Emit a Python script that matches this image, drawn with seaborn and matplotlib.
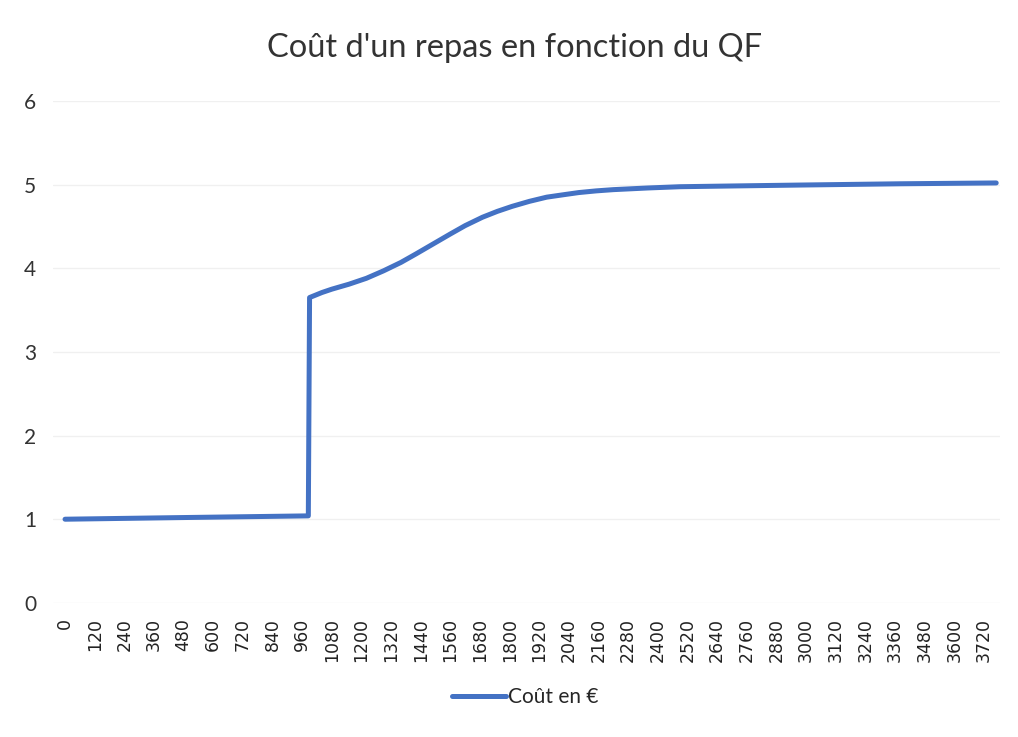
import pandas as pd
import numpy as np
import seaborn as sns
import matplotlib.pyplot as plt

# values (QF -> cost of a meal in euros)
qf = [0, 480, 985, 990, 1040, 1080, 1150, 1220, 1290, 1360, 1420, 1490, 1560,
      1620, 1690, 1750, 1810, 1880, 1950, 2020, 2080, 2150, 2220, 2360, 2490,
      2730, 2980, 3380, 3770]
cout = [1.00, 1.02, 1.04, 3.65, 3.71, 3.75, 3.81, 3.88, 3.97, 4.07, 4.17, 4.29,
        4.41, 4.51, 4.61, 4.68, 4.74, 4.80, 4.85, 4.88, 4.905, 4.925, 4.94,
        4.96, 4.975, 4.985, 4.995, 5.01, 5.02]
xticks = list(range(0, 3721, 120))
yticks = [0, 1, 2, 3, 4, 5, 6]

df = pd.DataFrame({'QF': qf, 'Coût en €': cout})

sns.set_theme(style='white')
plt.rcParams['font.family'] = ['Lato', 'DejaVu Sans']

fig = plt.figure(figsize=(10.18, 7.37), dpi=100)
ax = fig.add_axes([0.052, 0.182, 0.930, 0.681])

sns.lineplot(data=df, x='QF', y='Coût en €', ax=ax, color='#4472C4',
             linewidth=3.6, label='Coût en €', legend=False,
             solid_capstyle='round', solid_joinstyle='round')

ax.set_xlim(-49, 3784)
ax.set_ylim(0, 6)
ax.set_xticks(xticks)
ax.set_xticklabels([str(t) for t in xticks], rotation=90,
                   fontsize=12.5, family='DejaVu Sans', color='#222222')
ax.set_yticks(yticks)
ax.set_yticklabels([str(t) for t in yticks], fontsize=15, color='#333333')
ax.tick_params(axis='x', length=0, pad=11)
ax.tick_params(axis='y', length=0, pad=12)
ax.grid(axis='y', color='#f0f0f0', linewidth=1)
ax.set_xlabel('')
ax.set_ylabel('')
for s in ax.spines.values():
    s.set_visible(False)

fig.suptitle("Coût d'un repas en fonction du QF", fontsize=23.5,
             color='#333333', x=0.505, y=0.955)

handles, labels = ax.get_lines(), ['Coût en €']
fig.legend(handles[:1], labels, loc='center', bbox_to_anchor=(0.516, 0.054),
           frameon=False, fontsize=15, handlelength=2.6, handletextpad=0.1)

fig.savefig('out.png', dpi=100, facecolor='white')
